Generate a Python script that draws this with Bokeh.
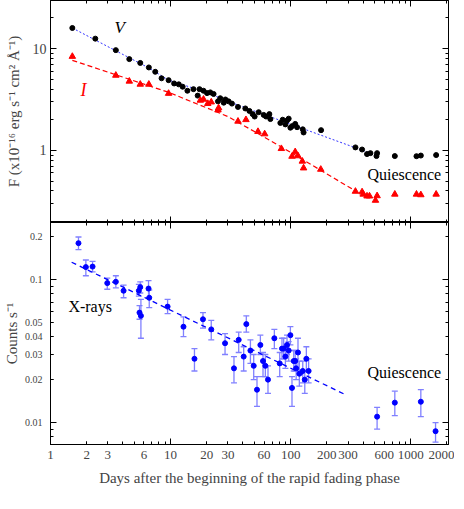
from bokeh.plotting import figure
from bokeh.models import (ColumnDataSource, LogAxis, FixedTicker, Label, Whisker,
                          TeeHead, Range1d, CustomJSTickFormatter)
from bokeh.layouts import column
from bokeh.embed import file_html
from bokeh.resources import INLINE

FONT = "Liberation Serif"

# ---------------- data ----------------
v_days = [1.52, 2.36, 3.50, 4.53, 5.59, 6.59, 7.45, 8.41, 9.62, 10.7, 11.7, 12.6, 13.8,
          15.5, 16.8, 17.4, 18.8, 20.1, 21.4, 22.8, 24.8, 25.9, 27.7, 28.6, 30.4, 32.4,
          36.4, 41.9, 45.3, 48.2, 50.1, 54.1, 59.6, 62.3, 66.4, 67.7, 82.0, 85.8, 90.3,
          93.2, 96.2, 99.4, 102.5, 109, 113, 126, 128, 179, 346, 393, 432, 461, 518,
          524, 736, 1115, 1212, 1625]
v_flux = [15.9, 12.5, 9.64, 7.87, 7.22, 6.52, 5.91, 5.10, 4.89, 4.54, 4.45, 4.22, 3.85,
          3.99, 3.45, 3.99, 3.85, 3.65, 3.71, 3.58, 3.03, 3.25, 2.94, 3.16, 3.03, 2.88,
          2.67, 2.58, 2.44, 2.27, 2.15, 2.37, 2.23, 2.15, 2.27, 2.03, 1.86, 2.00, 1.80,
          1.96, 2.05, 1.67, 1.73, 1.82, 1.69, 1.61, 1.50, 1.58, 1.07, 1.02, 0.92, 0.94,
          0.88, 0.94, 0.88, 0.877, 0.89, 0.90]

i_days = [1.52, 3.50, 4.53, 5.59, 6.59, 9.62, 17.7, 18.8, 20.4, 21.8, 24.8, 25.1, 36.4,
          42.4, 53.4, 60.7, 83.6, 102.5, 109, 115, 125, 128, 178, 346, 393, 401, 432,
          453, 508, 524, 736, 1115, 1212, 1625]
i_flux = [8.35, 5.45, 4.77, 4.45, 4.45, 3.62, 3.10, 3.17, 2.88, 2.98, 2.49, 2.61, 1.93,
          2.00, 1.53, 1.45, 1.04, 0.873, 0.968, 0.883, 0.782, 0.671, 0.651, 0.396, 0.391,
          0.371, 0.356, 0.356, 0.323, 0.358, 0.371, 0.371, 0.366, 0.371]

v_fit_days = [1.52, 3.5, 6.5, 9.6, 20.0, 30.0, 508]
v_fit_flux = [15.9, 9.5, 6.5, 4.9, 3.7, 3.03, 0.90]
i_fit_days = [1.52, 9.6, 30.0, 85.0, 346]
i_fit_flux = [7.66, 3.72, 2.15, 1.07, 0.40]

x_days = [1.71, 1.97, 2.24, 2.97, 3.50, 4.06, 5.44, 5.59, 5.51, 5.66, 6.55, 6.64, 9.44,
          12.8, 15.8, 18.6, 21.8, 28.4, 33.7, 36.9, 40.6, 42.7, 46.2, 49.2, 52.4, 55.9,
          58.8, 61.5, 64.7, 73.1, 81.0, 84.6, 87.4, 90.3, 93.2, 96.2, 99.4, 102.5, 106,
          109, 111, 115, 118, 126, 131, 135, 141, 524, 736, 1212, 1607]
x_rate = [0.181, 0.123, 0.124, 0.095, 0.097, 0.084, 0.084, 0.089, 0.059, 0.056, 0.087,
          0.075, 0.065, 0.047, 0.028, 0.053, 0.045, 0.036, 0.024, 0.038, 0.029, 0.049,
          0.032, 0.025, 0.017, 0.035, 0.027, 0.025, 0.020, 0.039, 0.026, 0.033, 0.033,
          0.029, 0.035, 0.032, 0.041, 0.0175, 0.027, 0.027, 0.024, 0.031, 0.022, 0.023,
          0.020, 0.028, 0.023, 0.011, 0.0138, 0.0140, 0.0087]
x_lo = [0.163, 0.107, 0.114, 0.086, 0.088, 0.075, 0.077, 0.081, 0.053, 0.039, 0.075,
        0.064, 0.058, 0.040, 0.023, 0.046, 0.038, 0.030, 0.019, 0.031, 0.023, 0.043,
        0.026, 0.020, 0.013, 0.030, 0.021, 0.021, 0.016, 0.033, 0.021, 0.028, 0.028,
        0.024, 0.030, 0.027, 0.035, 0.013, 0.023, 0.023, 0.020, 0.023, 0.018, 0.019,
        0.016, 0.023, 0.019, 0.0090, 0.0112, 0.0110, 0.0073]
x_hi = [0.200, 0.138, 0.135, 0.103, 0.107, 0.092, 0.093, 0.097, 0.066, 0.073, 0.099,
        0.085, 0.073, 0.055, 0.033, 0.059, 0.052, 0.042, 0.029, 0.043, 0.034, 0.056,
        0.038, 0.030, 0.021, 0.041, 0.031, 0.030, 0.025, 0.045, 0.031, 0.039, 0.039,
        0.034, 0.041, 0.037, 0.047, 0.021, 0.032, 0.032, 0.028, 0.039, 0.027, 0.027,
        0.023, 0.034, 0.028, 0.0128, 0.0166, 0.0170, 0.0100]
x_fit_days = [1.5, 294]
x_fit_rate = [0.133, 0.0155]

# ticks
x_decades = [1, 10, 100, 1000]
x_minor = [2, 3, 4, 5, 6, 7, 8, 9, 20, 30, 40, 50, 60, 70, 80, 90,
           200, 300, 400, 500, 600, 700, 800, 900, 2000]
x_ticks = [1, 2, 3, 6, 10, 20, 30, 60, 100, 200, 300, 600, 1000, 2000]
x_tick_labels = ["1", "2", "3", "6", "10", "20", "30", "60", "100", "200", "300",
                 "600", "1000", "2000"]
f_decades = [1, 10]
f_minor = [0.2, 0.3, 0.4, 0.5, 0.6, 0.7, 0.8, 0.9, 2, 3, 4, 5, 6, 7, 8, 9, 20]
f_tick_labels = ["1", "10"]
c_decades = [0.01, 0.1]
c_minor = [0.008, 0.009, 0.02, 0.03, 0.04, 0.05, 0.06, 0.07, 0.08, 0.09, 0.2]
c_ticks = [0.01, 0.02, 0.03, 0.04, 0.05, 0.1, 0.2]
c_tick_labels = ["0.01", "0.02", "0.03", "0.04", "0.05", "0.1", "0.2"]

MAJ, MIN = 6, 3


def make_formatter(vals, labels):
    return CustomJSTickFormatter(
        args=dict(tvals=vals, tlabels=labels),
        code="""
        let best = -1, bd = 1e9;
        for (let i = 0; i < tvals.length; i++) {
            const d = Math.abs(Math.log(tick) - Math.log(tvals[i]));
            if (d < bd) { bd = d; best = i; }
        }
        return (best >= 0 && bd < 1e-6) ? tlabels[best] : "";
        """)


def style(ax):
    ax.axis_line_color = "black"
    ax.major_tick_line_color = "black"
    ax.minor_tick_line_color = "black"
    ax.major_tick_out = 0
    ax.minor_tick_out = 0
    ax.major_label_text_font = FONT
    ax.axis_label_text_font = FONT
    ax.axis_label_text_font_style = "normal"
    return ax


def bare_axis(ticks, minor):
    ax = LogAxis(ticker=FixedTicker(ticks=ticks, minor_ticks=minor))
    style(ax)
    ax.major_tick_in = MAJ
    ax.minor_tick_in = MIN
    ax.major_label_text_font_size = "1px"
    ax.major_label_text_color = None
    ax.major_label_standoff = 0
    return ax


def labeled_axis(ticks, labels, size, standoff, minor=None, major_in=MIN):
    ax = LogAxis(ticker=FixedTicker(ticks=ticks, minor_ticks=minor or []),
                 formatter=make_formatter(ticks, labels))
    style(ax)
    ax.major_tick_in = major_in
    ax.minor_tick_in = MIN
    ax.major_label_text_font_size = size
    ax.major_label_standoff = standoff
    return ax


common = dict(frame_width=398, frame_height=222, x_axis_type="log", y_axis_type="log",
              x_axis_location=None, y_axis_location=None, toolbar_location=None,
              output_backend="svg", min_border_left=44, min_border_right=6,
              outline_line_color="black", outline_line_width=1,
              background_fill_color="white", border_fill_color="white")

# ---------------- top panel ----------------
p1 = figure(x_range=Range1d(1, 2060), y_range=Range1d(0.196, 29.6),
            min_border_top=0, min_border_bottom=0, **common)
p1.xgrid.grid_line_color = None
p1.ygrid.grid_line_color = None
p1.add_layout(bare_axis(x_decades, x_minor), "below")
p1.add_layout(bare_axis(x_decades, x_minor), "above")
p1.add_layout(bare_axis(f_decades, f_minor), "right")
ly = labeled_axis(f_decades, f_tick_labels, "14px", 4, minor=f_minor, major_in=MAJ)
ly.axis_label = "F (x10\u207b\u00b9\u2076 erg s\u207b\u00b9 cm\u00b2 \u00c5\u207b\u00b9)"
ly.axis_label_text_font_size = "15px"
ly.axis_label_standoff = 8
p1.add_layout(ly, "left")

p1.line(v_fit_days, v_fit_flux, line_color="#3333ff", line_width=1, line_dash="2 2")
p1.line(i_fit_days, i_fit_flux, line_color="#ff0000", line_width=1.2, line_dash="5 3")
p1.scatter(v_days, v_flux, marker="circle", size=5, color="black")
p1.scatter(i_days, i_flux, marker="triangle", size=6.5, color="#ff0000")

p1.add_layout(Label(x=3.76, y=16.1, text="V", text_font=FONT, text_font_style="italic",
                    text_font_size="17px", text_align="center", text_baseline="middle",
                    text_color="black"))
p1.add_layout(Label(x=1.88, y=3.93, text="I", text_font=FONT, text_font_style="italic",
                    text_font_size="18px", text_align="center", text_baseline="middle",
                    text_color="#ff0000"))
p1.add_layout(Label(x=883, y=0.58, text="Quiescence", text_font=FONT,
                    text_font_size="16px", text_align="center", text_baseline="middle",
                    text_color="black"))

# ---------------- bottom panel ----------------
p2 = figure(x_range=p1.x_range, y_range=Range1d(0.00702, 0.2527),
            min_border_top=0, min_border_bottom=2, **common)
p2.xgrid.grid_line_color = None
p2.ygrid.grid_line_color = None
p2.add_layout(bare_axis(x_decades, x_minor), "above")
p2.add_layout(bare_axis(c_decades, c_minor), "right")
p2.add_layout(bare_axis(c_decades, c_minor), "left")
lc = labeled_axis(c_ticks, c_tick_labels, "10px", 8)
lc.axis_label = "Counts s\u207b\u00b9"
lc.axis_label_text_font_size = "15px"
lc.axis_label_standoff = 2
p2.add_layout(lc, "left")
p2.add_layout(bare_axis(x_decades, x_minor), "below")
lx = labeled_axis(x_ticks, x_tick_labels, "13px", 6)
lx.axis_label = "Days after the beginning of the rapid fading phase"
lx.axis_label_text_font_size = "15px"
lx.axis_label_standoff = 8
p2.add_layout(lx, "below")

xsrc = ColumnDataSource(dict(days=x_days, rate=x_rate, lo=x_lo, hi=x_hi))
err_col = "#8080ff"
p2.add_layout(Whisker(source=xsrc, base="days", upper="hi", lower="lo",
                      dimension="height", line_color=err_col, line_width=1.3,
                      upper_head=TeeHead(size=6, line_color=err_col, line_width=1.3),
                      lower_head=TeeHead(size=6, line_color=err_col, line_width=1.3)))
p2.line(x_fit_days, x_fit_rate, line_color="#0000ff", line_width=1.3, line_dash="5 4")
p2.scatter("days", "rate", source=xsrc, marker="circle", size=5, color="#0000ff")

p2.add_layout(Label(x=2.14, y=0.0649, text="X-rays", text_font=FONT,
                    text_font_size="16px", text_align="center", text_baseline="middle",
                    text_color="black"))
p2.add_layout(Label(x=883, y=0.0223, text="Quiescence", text_font=FONT,
                    text_font_size="16px", text_align="center", text_baseline="middle",
                    text_color="black"))

layout = column(p1, p2, spacing=0)
open("out.html", "w").write(file_html(layout, INLINE))
